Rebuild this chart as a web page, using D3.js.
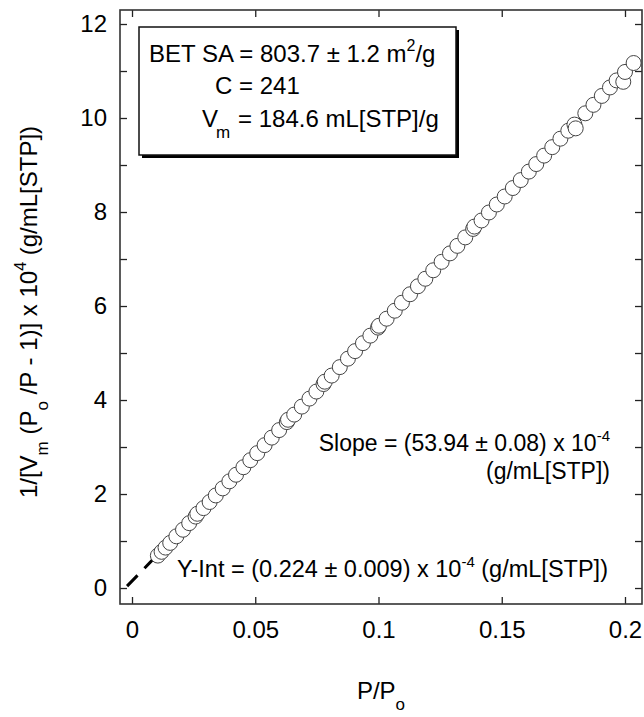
<!DOCTYPE html>
<html>
<head>
<meta charset="utf-8">
<script src="https://cdn.jsdelivr.net/npm/d3@7"></script>
<style>
  html, body { margin: 0; padding: 0; background: #fff; }
  svg text { font-family: "Liberation Sans", Arial, Helvetica, sans-serif; fill: #000; }
</style>
</head>
<body>
<svg id="chart" width="644" height="717"></svg>
<script>
// ---- data ----
const ppo = [0.0105, 0.0120, 0.0136, 0.0155, 0.0180, 0.0207, 0.0232, 0.0258, 0.0265, 0.0290,
             0.0315, 0.0340, 0.0368, 0.0395, 0.0422, 0.0452, 0.0480, 0.0508, 0.0538, 0.0567,
             0.0597, 0.0628, 0.0633, 0.0658, 0.0689, 0.0720, 0.0748, 0.0777, 0.0782, 0.0810,
             0.0843, 0.0876, 0.0905, 0.0937, 0.0967, 0.0998, 0.1002, 0.1033, 0.1066, 0.1095,
             0.1128, 0.1160, 0.1190, 0.1222, 0.1256, 0.1290, 0.1320, 0.1352, 0.1384, 0.1389,
             0.1418, 0.1448, 0.1480, 0.1512, 0.1545, 0.1577, 0.1610, 0.1640, 0.1672, 0.1705,
             0.1738, 0.1770, 0.1795, 0.1800, 0.1839, 0.1872, 0.1906, 0.1939, 0.1966, 0.1993,
             0.2000, 0.2035];
const betY = [0.69, 0.77, 0.86, 0.96, 1.10, 1.24, 1.38, 1.52, 1.58, 1.70,
              1.83, 1.97, 2.12, 2.27, 2.41, 2.57, 2.72, 2.87, 3.04, 3.20,
              3.36, 3.53, 3.58, 3.69, 3.86, 4.03, 4.18, 4.34, 4.39, 4.52,
              4.70, 4.88, 5.04, 5.21, 5.37, 5.54, 5.58, 5.73, 5.90, 6.07,
              6.25, 6.42, 6.58, 6.76, 6.94, 7.12, 7.28, 7.46, 7.64, 7.69,
              7.82, 7.99, 8.16, 8.33, 8.51, 8.68, 8.86, 9.02, 9.20, 9.38,
              9.56, 9.73, 9.86, 9.78, 10.10, 10.28, 10.47, 10.65, 10.80, 10.77,
              10.98, 11.17];
// dashed fit line end points
const fitX = [-0.0020, 0.2035];
const fitY = [0.04, 11.17];
const xTicks = [0, 0.05, 0.1, 0.15, 0.2];
const xTickLabels = ["0", "0.05", "0.1", "0.15", "0.2"];
const yTicks = [0, 1, 2, 3, 4, 5, 6, 7, 8, 9, 10, 11, 12];
const yTickLabels = ["0", "", "2", "", "4", "", "6", "", "8", "", "10", "", "12"];

// ---- layout ----
const L = 120, R = 642, T = 10, B = 604;
const svg = d3.select("#chart");
const x = d3.scaleLinear().domain([-0.00487, 0.2069]).range([L, R]);
const y = d3.scaleLinear().domain([-0.34, 12.298]).range([B, T]);

const tickLen = 7;
const fs = 24;

const gB = svg.append("g").attr("transform", `translate(0,${B})`)
  .call(d3.axisBottom(x).tickValues(xTicks).tickFormat((d, i) => xTickLabels[i])
        .tickSizeInner(-tickLen).tickSizeOuter(0).tickPadding(17));
const gT = svg.append("g").attr("transform", `translate(0,${T})`)
  .call(d3.axisTop(x).tickValues(xTicks).tickFormat(() => "")
        .tickSizeInner(-tickLen).tickSizeOuter(0));
const gL = svg.append("g").attr("transform", `translate(${L},0)`)
  .call(d3.axisLeft(y).tickValues(yTicks).tickFormat((d, i) => yTickLabels[i])
        .tickSizeInner(-tickLen).tickSizeOuter(0).tickPadding(13));
const gR = svg.append("g").attr("transform", `translate(${R},0)`)
  .call(d3.axisRight(y).tickValues(yTicks).tickFormat(() => "")
        .tickSizeInner(-tickLen).tickSizeOuter(0));

[gB, gT, gL, gR].forEach(g => {
  g.select(".domain").remove();
  g.selectAll(".tick line").attr("stroke", "#222").attr("stroke-width", 1.3);
  g.selectAll(".tick text").attr("font-size", fs).attr("fill", "#000")
    .style("font-family", '"Liberation Sans", Arial, sans-serif');
});

// frame
svg.append("rect").attr("x", L).attr("y", T).attr("width", R - L).attr("height", B - T)
  .attr("fill", "none").attr("stroke", "#333").attr("stroke-width", 1.6);

// fit line (dashed)
svg.append("line")
  .attr("x1", x(fitX[0])).attr("y1", y(fitY[0]))
  .attr("x2", x(fitX[1])).attr("y2", y(fitY[1]))
  .attr("stroke", "#000").attr("stroke-width", 3).attr("stroke-dasharray", "15,10");

// points
svg.append("g").selectAll("circle").data(ppo).join("circle")
  .attr("cx", d => x(d)).attr("cy", (d, i) => y(betY[i])).attr("r", 7.5)
  .attr("fill", "#fff").attr("stroke", "#444").attr("stroke-width", 1);

// ---- info box ----
const bx = 139, by = 27, bw = 317, bh = 128;
svg.append("rect").attr("x", bx + 3).attr("y", by + 3).attr("width", bw).attr("height", bh).attr("fill", "#000");
svg.append("rect").attr("x", bx).attr("y", by).attr("width", bw).attr("height", bh)
  .attr("fill", "#fff").attr("stroke", "#111").attr("stroke-width", 1.5);

const t1 = svg.append("text").attr("x", 149).attr("y", 62).attr("font-size", 24);
t1.append("tspan").text("BET SA = 803.7 ± 1.2 m");
t1.append("tspan").attr("font-size", 16).attr("dy", -11).text("2");
t1.append("tspan").attr("dy", 11).text("/g");

svg.append("text").attr("x", 215).attr("y", 94).attr("font-size", 24).text("C = 241");

const t3 = svg.append("text").attr("y", 127).attr("font-size", 24);
t3.append("tspan").attr("x", 202).text("V");
t3.append("tspan").attr("x", 216).attr("dy", 11).attr("font-size", 17).text("m");
t3.append("tspan").attr("x", 238).attr("dy", -11).text("= 184.6 mL[STP]/g");

// ---- annotations ----
const s1 = svg.append("text").attr("x", 610).attr("y", 451).attr("font-size", 23).attr("text-anchor", "end");
s1.append("tspan").text("Slope = (53.94 ± 0.08) x 10");
s1.append("tspan").attr("font-size", 15).attr("dy", -10).text("-4");
svg.append("text").attr("x", 610).attr("y", 479).attr("font-size", 23).attr("text-anchor", "end").text("(g/mL[STP])");

const s2 = svg.append("text").attr("x", 177).attr("y", 577).attr("font-size", 23.5);
s2.append("tspan").text("Y-Int = (0.224 ± 0.009) x 10");
s2.append("tspan").attr("font-size", 15).attr("dy", -10).text("-4");
s2.append("tspan").attr("dy", 10).text(" (g/mL[STP])");

// ---- axis titles ----
const xt = svg.append("text").attr("x", 381).attr("y", 699).attr("font-size", 24).attr("text-anchor", "middle");
xt.append("tspan").text("P/P");
xt.append("tspan").attr("font-size", 17).attr("dy", 11).text("o");

const yt = svg.append("text").attr("transform", "translate(37,312) rotate(-90)")
  .attr("font-size", 24).attr("text-anchor", "middle");
yt.append("tspan").text("1/[V");
yt.append("tspan").attr("font-size", 17).attr("dy", 11).text("m");
yt.append("tspan").attr("dy", -11).text(" (P");
yt.append("tspan").attr("font-size", 17).attr("dy", 11).text("o");
yt.append("tspan").attr("dy", -11).text(" /P - 1)] x 10");
yt.append("tspan").attr("font-size", 16).attr("dy", -11).text("4");
yt.append("tspan").attr("dy", 11).text(" (g/mL[STP])");
</script>
</body>
</html>
